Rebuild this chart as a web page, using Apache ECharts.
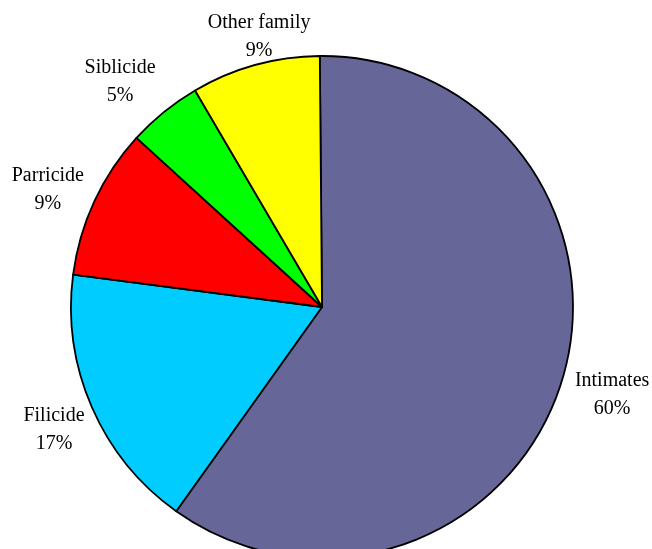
<!DOCTYPE html>
<html>
<head>
<meta charset="utf-8">
<script src="https://cdn.jsdelivr.net/npm/echarts@6/dist/echarts.min.js"></script>
<style>
html,body{margin:0;padding:0;background:#fff;}
#chart{width:652px;height:549px;}
</style>
</head>
<body>
<div id="chart"></div>
<script>
// Data
const categories = ['Intimates', 'Filicide', 'Parricide', 'Siblicide', 'Other family'];
const sliceValues = [60.0, 17.2, 9.7, 4.8, 8.3];
const percentLabels = [60, 17, 9, 5, 9];

// Styles
const colors = ['#666699', '#00CCFF', '#FF0000', '#00FF00', '#FFFF00'];
const labelOffsets = [[4, -2], [7, 3], [-2, 9], [-13, 8], [17, 19]];

const chart = echarts.init(document.getElementById('chart'), null, {renderer: 'canvas'});

const pieData = categories.map((c, i) => ({
  name: c,
  value: sliceValues[i],
  itemStyle: {color: colors[i]}
}));

const labelData = categories.map((c, i) => ({
  name: c,
  value: sliceValues[i],
  label: {offset: labelOffsets[i]}
}));

chart.setOption({
  animation: false,
  backgroundColor: '#ffffff',
  series: [
    {
      type: 'pie',
      center: [322, 307],
      radius: 251,
      startAngle: 90.5,
      clockwise: true,
      avoidLabelOverlap: false,
      silent: true,
      label: {show: false},
      labelLine: {show: false},
      itemStyle: {borderColor: '#000', borderWidth: 1.8},
      emphasis: {disabled: true},
      data: pieData
    },
    {
      type: 'pie',
      center: [322, 307],
      radius: [290, 304],
      startAngle: 90.5,
      clockwise: true,
      avoidLabelOverlap: false,
      silent: true,
      itemStyle: {color: 'rgba(0,0,0,0)', borderWidth: 0},
      labelLine: {show: false},
      emphasis: {disabled: true},
      label: {
        show: true,
        position: 'inside',
        rotate: 0,
        color: '#000',
        fontFamily: 'Liberation Serif',
        fontSize: 20,
        lineHeight: 28,
        align: 'center',
        formatter: p => p.name + '\n' + percentLabels[p.dataIndex] + '%'
      },
      data: labelData
    }
  ]
});
</script>
</body>
</html>
